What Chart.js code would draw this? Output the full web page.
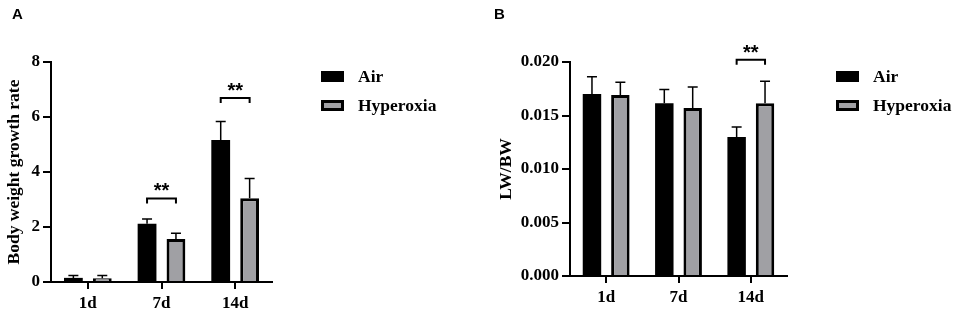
<!DOCTYPE html>
<html><head><meta charset="utf-8">
<script src="https://cdn.jsdelivr.net/npm/chart.js@4"></script>
<style>
html,body{margin:0;padding:0;background:#fff;}
#wrap{position:relative;width:957px;height:315px;overflow:hidden;}
.panel{position:absolute;top:0;height:315px;}
</style></head><body>
<div id="wrap">
<div class="panel" style="left:0;width:478px"><canvas id="cA"></canvas></div>
<div class="panel" style="left:478px;width:479px"><canvas id="cB"></canvas></div>
</div>
<script>
// ---- data ----
const categories = ['1d', '7d', '14d'];
const seriesNames = ['Air', 'Hyperoxia'];
const panelLetters = ['A', 'B'];

const growthTitle = 'Body weight growth rate';
const growthAir = [0.15, 2.12, 5.16];
const growthAirErr = [0.09, 0.17, 0.68];
const growthHyp = [0.14, 1.56, 3.05];
const growthHypErr = [0.10, 0.21, 0.71];
const growthTicks = [0, 2, 4, 6, 8];
const growthSig = [{cat: 1, y: 3.04, label: '**'}, {cat: 2, y: 6.69, label: '**'}];

const lwbwTitle = 'LW/BW';
const lwbwAir = [0.0170, 0.01614, 0.0130];
const lwbwAirErr = [0.00163, 0.00128, 0.00093];
const lwbwHyp = [0.01691, 0.0157, 0.01614];
const lwbwHypErr = [0.00119, 0.00196, 0.00205];
const lwbwTicks = [0, 0.005, 0.010, 0.015, 0.020];
const lwbwSig = [{cat: 2, y: 0.0202, label: '**'}];

// ---- styles ----
const SERIF = "'Liberation Serif','Times New Roman',serif";
const SANS = "'Liberation Sans',Arial,sans-serif";
const GRAY = '#a0a0a4';

const overlay = {
  id: 'overlay',
  afterDatasetsDraw(chart, args, opts) {
    const ctx = chart.ctx;
    const y = chart.scales.y;
    ctx.save();
    ctx.strokeStyle = '#000';
    ctx.lineWidth = 1.5;
    chart.data.datasets.forEach((ds, di) => {
      const meta = chart.getDatasetMeta(di);
      meta.data.forEach((bar, i) => {
        const top = y.getPixelForValue(ds.data[i] + ds.errors[i]);
        ctx.beginPath();
        ctx.moveTo(bar.x, bar.y);
        ctx.lineTo(bar.x, top);
        ctx.moveTo(bar.x - 5, top);
        ctx.lineTo(bar.x + 5, top);
        ctx.stroke();
      });
    });
    // significance brackets
    const m0 = chart.getDatasetMeta(0), m1 = chart.getDatasetMeta(1);
    ctx.lineWidth = 2;
    (opts.sig || []).forEach(s => {
      const x0 = m0.data[s.cat].x, x1 = m1.data[s.cat].x;
      const py = y.getPixelForValue(s.y);
      ctx.beginPath();
      ctx.moveTo(x0, py + 5);
      ctx.lineTo(x0, py);
      ctx.lineTo(x1, py);
      ctx.lineTo(x1, py + 5);
      ctx.stroke();
      ctx.fillStyle = '#000';
      ctx.font = 'bold 20px ' + SANS;
      ctx.textAlign = 'center';
      ctx.textBaseline = 'alphabetic';
      ctx.fillText(s.label, (x0 + x1) / 2, py - 1);
    });
    ctx.restore();
  },
  afterDraw(chart, args, opts) {
    const ctx = chart.ctx;
    const ca = chart.chartArea;
    ctx.save();
    // legend
    const lx = ca.right + 49;
    chart.data.datasets.forEach((ds, i) => {
      const ly = ca.top + 9 + i * 29;
      ctx.fillStyle = '#000';
      ctx.fillRect(lx, ly, 23, 11);
      if (ds.borderWidth > 0) {
        ctx.fillStyle = ds.backgroundColor;
        ctx.fillRect(lx + 3, ly + 3, 17, 5);
      }
      ctx.fillStyle = '#000';
      ctx.font = 'bold 17.5px ' + SERIF;
      ctx.textAlign = 'left';
      ctx.textBaseline = 'middle';
      ctx.fillText(ds.label, lx + 37, ly + 6);
    });
    // panel letter
    ctx.font = 'bold 15px ' + SANS;
    ctx.textAlign = 'left';
    ctx.textBaseline = 'alphabetic';
    ctx.fillStyle = '#000';
    ctx.fillText(opts.letter, opts.letterX, 19);
    ctx.restore();
  }
};

function makeChart(id, cfg) {
  const tickFont = {family: SERIF, size: 17, weight: 'bold'};
  return new Chart(document.getElementById(id), {
    type: 'bar',
    data: {
      labels: categories,
      datasets: [
        {label: seriesNames[0], data: cfg.air, errors: cfg.airErr, backgroundColor: '#000', borderColor: '#000', borderWidth: 0,
         categoryPercentage: 0.785, barPercentage: 0.65},
        {label: seriesNames[1], data: cfg.hyp, errors: cfg.hypErr, backgroundColor: GRAY, borderColor: '#000', borderWidth: 3,
         categoryPercentage: 0.785, barPercentage: 0.65}
      ]
    },
    options: {
      responsive: true, maintainAspectRatio: false, animation: false,
      layout: {padding: {left: 0, top: 62, right: cfg.padRight, bottom: 0}},
      plugins: {
        legend: {display: false}, tooltip: {enabled: false},
        overlay: {sig: cfg.sig, letter: cfg.letter, letterX: cfg.letterX}
      },
      scales: {
        x: {
          offset: true,
          grid: {display: true, offset: false, drawOnChartArea: false, drawTicks: true, tickLength: 7, color: '#000', lineWidth: 2},
          border: {display: true, color: '#000', width: 2},
          ticks: {color: '#000', font: tickFont, padding: 4},
          afterFit(s) { s.height = cfg.xHeight; }
        },
        y: {
          min: cfg.ticks[0], max: cfg.ticks[cfg.ticks.length - 1],
          grid: {display: true, drawOnChartArea: false, drawTicks: true, tickLength: 8, color: '#000', lineWidth: 2},
          border: {display: true, color: '#000', width: 2},
          ticks: {color: '#000', font: tickFont, padding: 3, stepSize: cfg.ticks[1] - cfg.ticks[0],
                  callback: v => cfg.fmt(v)},
          afterBuildTicks(s) { s.ticks = cfg.ticks.map(v => ({value: v})); },
          title: {display: true, text: cfg.title, color: '#000', font: {family: SERIF, size: 17.5, weight: 'bold'},
                  padding: {top: cfg.titlePad, bottom: 0}},
          afterFit(s) { s.width = cfg.yWidth; }
        }
      }
    },
    plugins: [overlay]
  });
}

makeChart('cA', {
  air: growthAir, airErr: growthAirErr, hyp: growthHyp, hypErr: growthHypErr,
  ticks: growthTicks, fmt: v => String(Math.round(v)), title: growthTitle, sig: growthSig,
  letter: panelLetters[0], letterX: 12, padRight: 206, yWidth: 51, xHeight: 33, titlePad: 4
});
makeChart('cB', {
  air: lwbwAir, airErr: lwbwAirErr, hyp: lwbwHyp, hypErr: lwbwHypErr,
  ticks: lwbwTicks, fmt: v => v.toFixed(3), title: lwbwTitle, sig: lwbwSig,
  letter: panelLetters[1], letterX: 16, padRight: 170, yWidth: 92, xHeight: 39, titlePad: 18
});
</script>
</body></html>
